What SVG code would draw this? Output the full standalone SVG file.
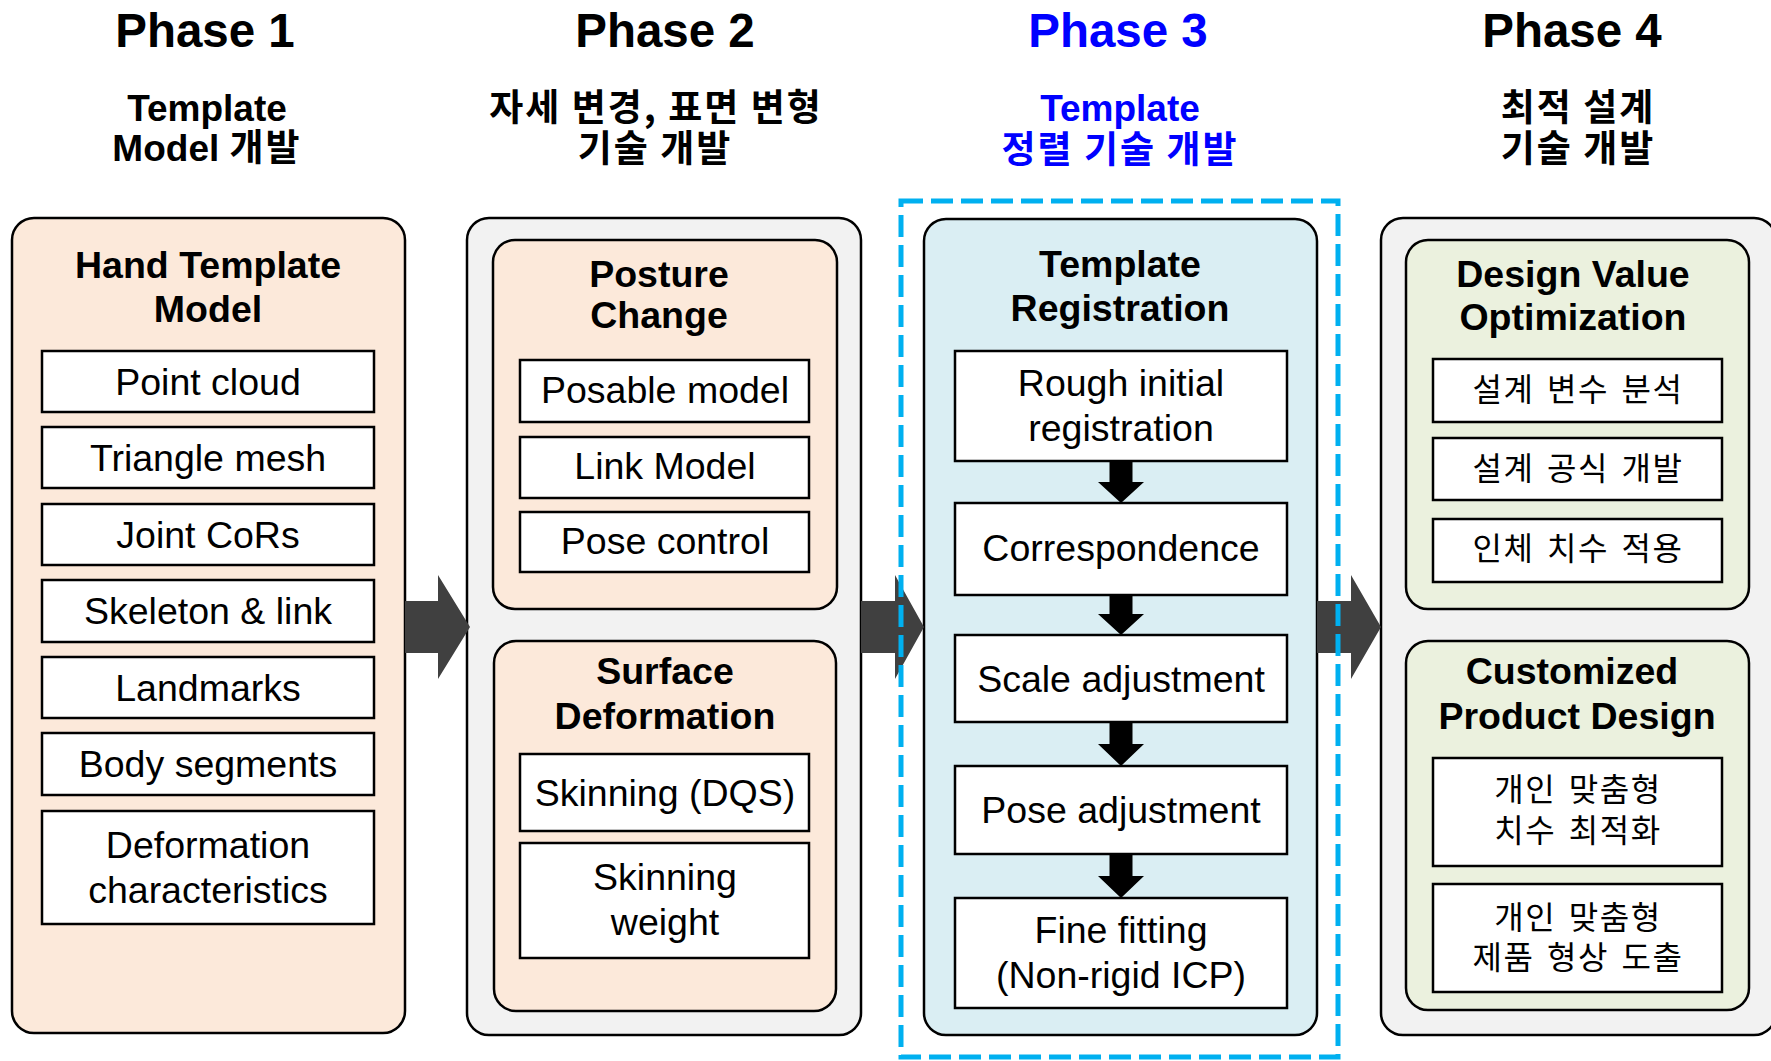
<svg xmlns="http://www.w3.org/2000/svg" width="1771" height="1061" viewBox="0 0 1771 1061">
<style>
text{font-family:"Liberation Sans","Noto Sans CJK KR",Arial,sans-serif;text-anchor:middle;fill:#000}
.title{font-size:47.5px;font-weight:bold}
.sub{font-size:37px;font-weight:bold}
.krs{font-family:"Noto Sans CJK KR","Liberation Sans",sans-serif;font-size:37px;font-weight:bold;letter-spacing:2px}
.hd{font-size:37.5px;font-weight:bold}
.it{font-size:37.5px}
.kr{font-size:32px;font-family:"Noto Sans CJK KR","Liberation Sans",sans-serif;letter-spacing:1.5px;word-spacing:4px}
.blue{fill:#0000FF}
.outer{stroke:#000;stroke-width:2.5}
.peach{fill:#FCE9DA}
.grey{fill:#F2F2F2}
.cyan{fill:#DAEEF3}
.olive{fill:#EBF1DE}
.item{fill:#FFFFFF;stroke:#000;stroke-width:2.5}
.big{fill:#404040}
.down{fill:#000}
.dash{fill:none;stroke:#00B0F0;stroke-width:5;stroke-dasharray:22 8}
</style>

<g id="titles">
<text class="title" x="205" y="47">Phase 1</text>
<text class="title" x="665" y="47">Phase 2</text>
<text class="title blue" x="1118" y="47">Phase 3</text>
<text class="title" x="1572" y="47">Phase 4</text>
<text class="sub" x="207" y="121">Template</text>
<text class="sub" x="207" y="161">Model <tspan class="krs" font-size="38px">개발</tspan></text>
<text class="krs" x="656" y="121">자세 변경, 표면 변형</text>
<text class="krs" x="655" y="162">기술 개발</text>
<text class="sub blue" x="1120" y="121">Template</text>
<text class="krs blue" x="1120" y="163">정렬 기술 개발</text>
<text class="krs" x="1578" y="121">최적 설계</text>
<text class="krs" x="1578" y="162">기술 개발</text>
</g>

<g id="phase1">
<rect class="outer peach" x="12" y="218" width="393" height="815" rx="22"/>
<text class="hd" x="208" y="278">Hand Template</text>
<text class="hd" x="208" y="322">Model</text>
<rect class="item" x="42" y="351" width="332" height="61"/>
<text class="it" x="208" y="394.5">Point cloud</text>
<rect class="item" x="42" y="427" width="332" height="61"/>
<text class="it" x="208" y="470.5">Triangle mesh</text>
<rect class="item" x="42" y="504" width="332" height="61"/>
<text class="it" x="208" y="547.5">Joint CoRs</text>
<rect class="item" x="42" y="580" width="332" height="62"/>
<text class="it" x="208" y="624">Skeleton &amp; link</text>
<rect class="item" x="42" y="657" width="332" height="61"/>
<text class="it" x="208" y="700.5">Landmarks</text>
<rect class="item" x="42" y="733" width="332" height="62"/>
<text class="it" x="208" y="777">Body segments</text>
<rect class="item" x="42" y="811" width="332" height="113"/>
<text class="it" x="208" y="857.5">Deformation</text>
<text class="it" x="208" y="902.5">characteristics</text>
</g>

<g id="phase2">
<rect class="outer grey" x="467" y="218" width="394" height="817" rx="22"/>
<g id="posture-change">
<rect class="outer peach" x="493" y="240" width="344" height="369" rx="22"/>
<text class="hd" x="659" y="287">Posture</text>
<text class="hd" x="659" y="328">Change</text>
<rect class="item" x="520" y="360" width="289" height="62"/>
<text class="it" x="665" y="403">Posable model</text>
<rect class="item" x="520" y="437" width="289" height="61"/>
<text class="it" x="665" y="479">Link Model</text>
<rect class="item" x="520" y="512" width="289" height="60"/>
<text class="it" x="665" y="554">Pose control</text>
</g>
<g id="surface-deformation">
<rect class="outer peach" x="494" y="641" width="342" height="370" rx="22"/>
<text class="hd" x="665" y="684">Surface</text>
<text class="hd" x="665" y="729">Deformation</text>
<rect class="item" x="520" y="754" width="289" height="77"/>
<text class="it" x="665" y="806">Skinning (DQS)</text>
<rect class="item" x="520" y="843" width="289" height="115"/>
<text class="it" x="665" y="890">Skinning</text>
<text class="it" x="665" y="935">weight</text>
</g>
</g>

<g id="phase3">
<rect class="outer cyan" x="924" y="219" width="393" height="816" rx="22"/>
<text class="hd" x="1120" y="277">Template</text>
<text class="hd" x="1120" y="321">Registration</text>
<rect class="item" x="955" y="351" width="332" height="110"/>
<text class="it" x="1121" y="396">Rough initial</text>
<text class="it" x="1121" y="441">registration</text>
<rect class="item" x="955" y="503" width="332" height="92"/>
<text class="it" x="1121" y="561">Correspondence</text>
<rect class="item" x="955" y="635" width="332" height="87"/>
<text class="it" x="1121" y="692">Scale adjustment</text>
<rect class="item" x="955" y="766" width="332" height="88"/>
<text class="it" x="1121" y="823">Pose adjustment</text>
<rect class="item" x="955" y="898" width="332" height="110"/>
<text class="it" x="1121" y="943">Fine fitting</text>
<text class="it" x="1121" y="988">(Non-rigid ICP)</text>
</g>

<g id="phase4">
<rect class="outer grey" x="1381" y="218" width="395" height="817" rx="22"/>
<g id="design-value">
<rect class="outer olive" x="1406" y="240" width="343" height="369" rx="22"/>
<text class="hd" x="1573" y="287">Design Value</text>
<text class="hd" x="1573" y="330">Optimization</text>
<rect class="item" x="1433" y="359" width="289" height="63"/>
<text class="kr" x="1578" y="401">설계 변수 분석</text>
<rect class="item" x="1433" y="438" width="289" height="62"/>
<text class="kr" x="1578" y="480">설계 공식 개발</text>
<rect class="item" x="1433" y="519" width="289" height="63"/>
<text class="kr" x="1578" y="560">인체 치수 적용</text>
</g>
<g id="customized">
<rect class="outer olive" x="1406" y="641" width="343" height="369" rx="22"/>
<text class="hd" x="1572" y="684">Customized</text>
<text class="hd" x="1577" y="729">Product Design</text>
<rect class="item" x="1433" y="758" width="289" height="108"/>
<text class="kr" x="1578" y="801">개인 맞춤형</text>
<text class="kr" x="1578" y="842">치수 최적화</text>
<rect class="item" x="1433" y="884" width="289" height="108"/>
<text class="kr" x="1578" y="929">개인 맞춤형</text>
<text class="kr" x="1578" y="969">제품 형상 도출</text>
</g>
</g>

<g id="connectors">
<polygon class="big" points="405,601 438,601 438,575 470,627 438,679 438,653 405,653"/>
<polygon class="big" points="861,601 895,601 895,575 924,627 895,679 895,653 861,653"/>
<polygon class="big" points="1317,601 1351,601 1351,575 1381,627 1351,679 1351,653 1317,653"/>
<polygon class="down" points="1109.5,461 1132.5,461 1132.5,482 1144,482 1121,503 1098,482 1109.5,482"/>
<polygon class="down" points="1109.5,595 1132.5,595 1132.5,614 1144,614 1121,635 1098,614 1109.5,614"/>
<polygon class="down" points="1109.5,722 1132.5,722 1132.5,744 1144,744 1121,766 1098,744 1109.5,744"/>
<polygon class="down" points="1109.5,854 1132.5,854 1132.5,876 1144,876 1121,898 1098,876 1109.5,876"/>
</g>

<g id="phase3-highlight">
<rect class="dash" x="901" y="201" width="437" height="856"/>
</g>
</svg>
